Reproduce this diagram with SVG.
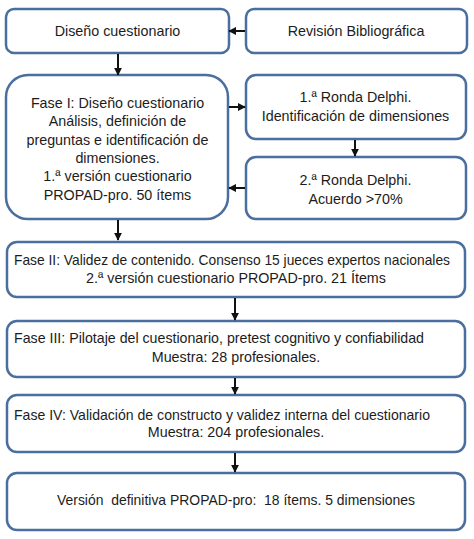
<svg xmlns="http://www.w3.org/2000/svg" width="474" height="539" viewBox="0 0 474 539">
<style>
.box{fill:#fff;stroke:#4a6e9e;stroke-width:2.5}
.t{font-family:"Liberation Sans",Arial,sans-serif;font-size:14.3px;fill:#1c1c1c}
.c{text-anchor:middle}
.con{stroke:#111;stroke-width:2;fill:none;marker-end:url(#ah)}
</style>
<defs>
<marker id="ah" markerWidth="4" markerHeight="4" refX="3.6" refY="2" orient="auto" markerUnits="strokeWidth">
<path d="M0,0 L4,2 L0,4 Z" fill="#111"/>
</marker>
</defs>
<g id="n-diseno">
<rect class="box" x="6" y="9" width="223" height="44" rx="8"/>
<text class="t c" x="117.5" y="36">Diseño cuestionario</text>
</g>
<g id="n-revision">
<rect class="box" x="246" y="9" width="221" height="44" rx="8"/>
<text class="t c" x="356" y="36">Revisión Bibliográfica</text>
</g>
<g id="n-fase1">
<rect class="box" x="6" y="75" width="222" height="144" rx="22"/>
<text class="t c" x="117.5" y="108">Fase I: Diseño cuestionario</text>
<text class="t c" x="117.5" y="126">Análisis, definición de</text>
<text class="t c" x="117.5" y="144.5">preguntas e identificación de</text>
<text class="t c" x="117.5" y="162.5">dimensiones.</text>
<text class="t c" x="117.5" y="181">1.ª versión cuestionario</text>
<text class="t c" x="117.5" y="200">PROPAD-pro. 50 ítems</text>
</g>
<g id="n-ronda1">
<rect class="box" x="246" y="75" width="220" height="64" rx="10"/>
<text class="t c" x="355.5" y="102">1.ª Ronda Delphi.</text>
<text class="t c" x="355.5" y="121">Identificación de dimensiones</text>
</g>
<g id="n-ronda2">
<rect class="box" x="246" y="157" width="220" height="62" rx="10"/>
<text class="t c" x="355.5" y="185">2.ª Ronda Delphi.</text>
<text class="t c" x="355.5" y="204">Acuerdo &gt;70%</text>
</g>
<g id="n-fase2">
<rect class="box" x="7" y="242" width="458" height="55" rx="10"/>
<text class="t" x="14" y="265" textLength="436" lengthAdjust="spacingAndGlyphs">Fase II: Validez de contenido. Consenso 15 jueces expertos nacionales</text>
<text class="t c" x="236" y="283">2.ª versión cuestionario PROPAD-pro. 21 Ítems</text>
</g>
<g id="n-fase3">
<rect class="box" x="7" y="321" width="458" height="56" rx="10"/>
<text class="t" x="14" y="343" textLength="410" lengthAdjust="spacingAndGlyphs">Fase III: Pilotaje del cuestionario, pretest cognitivo y confiabilidad</text>
<text class="t c" x="236" y="362">Muestra: 28 profesionales.</text>
</g>
<g id="n-fase4">
<rect class="box" x="7" y="395" width="458" height="57" rx="10"/>
<text class="t" x="14" y="420" textLength="416" lengthAdjust="spacingAndGlyphs">Fase IV: Validación de constructo y validez interna del cuestionario</text>
<text class="t c" x="236" y="437">Muestra: 204 profesionales.</text>
</g>
<g id="n-final">
<rect class="box" x="7" y="473" width="458" height="57" rx="10"/>
<text class="t c" x="236" y="505" xml:space="preserve" textLength="358" lengthAdjust="spacingAndGlyphs">Versión  definitiva PROPAD-pro:  18 ítems. 5 dimensiones</text>
</g>
<g id="connectors">
<line class="con" x1="245" y1="31" x2="229" y2="31"/>
<line class="con" x1="118" y1="54" x2="118" y2="75"/>
<line class="con" x1="229" y1="107" x2="245" y2="107"/>
<line class="con" x1="355" y1="140" x2="355" y2="156"/>
<line class="con" x1="245" y1="188" x2="229" y2="188"/>
<line class="con" x1="118" y1="220" x2="118" y2="240"/>
<line class="con" x1="235" y1="298" x2="235" y2="320"/>
<line class="con" x1="235" y1="378" x2="235" y2="394"/>
<line class="con" x1="235" y1="453" x2="235" y2="472"/>
</g>
</svg>
